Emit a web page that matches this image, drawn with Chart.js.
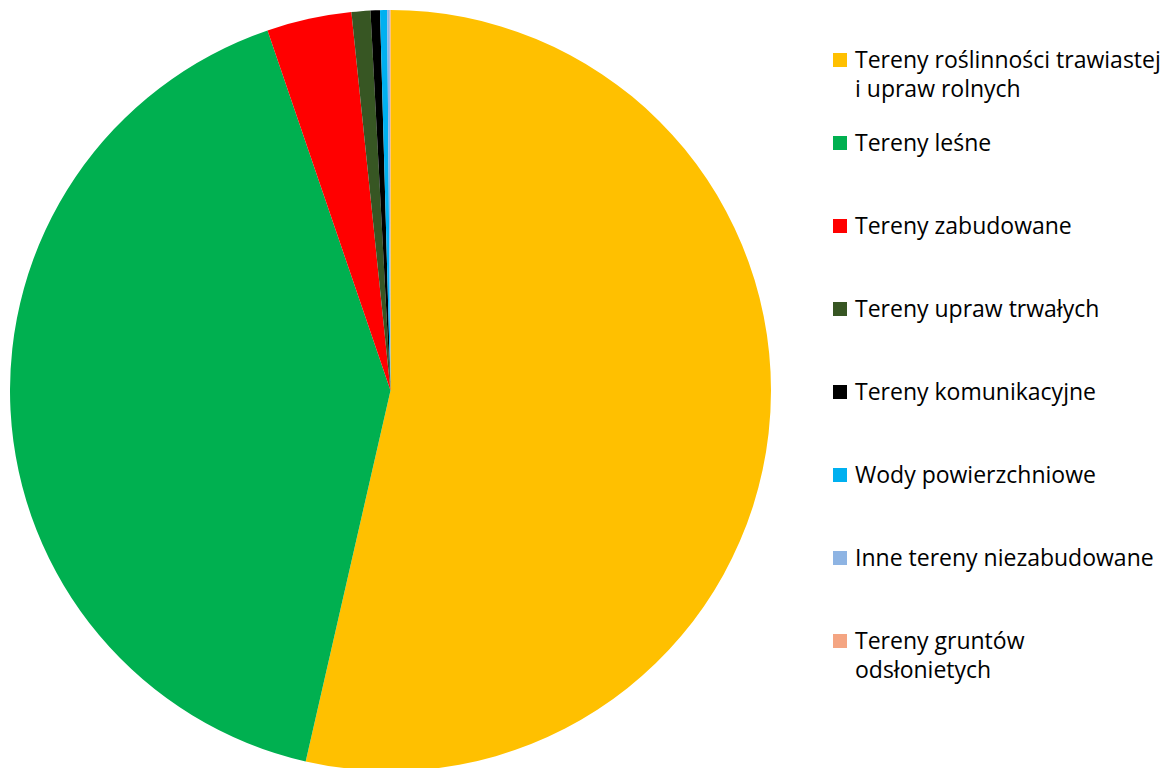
<!DOCTYPE html>
<html>
<head>
<meta charset="utf-8">
<script src="https://cdn.jsdelivr.net/npm/chart.js@4"></script>
<style>
    html, body { margin: 0; padding: 0; background: #fff; overflow: hidden; }
    body { width: 1168px; height: 768px; position: relative; }
    #pieBox { position: absolute; left: 10px; top: 10px; width: 761px; height: 761px; }
    #legend { position: absolute; left: 833px; top: 0; width: 335px; height: 768px;
              font-family: "Open Sans", "Noto Sans", sans-serif; font-size: 23px; color: #000; }
    .item { position: absolute; left: 0; display: flex; align-items: flex-start; }
    .swatch { width: 14px; height: 14px; margin-top: 8px; margin-right: 8px; flex: none; }
    .text { line-height: 29px; white-space: nowrap; }
</style>
</head>
<body>
<div id="pieBox"><canvas id="landChart"></canvas></div>
<div id="legend"></div>
<script>
// categories (two-line ones as arrays, like the original legend)
const categories = [
    ['Tereny roślinności trawiastej', 'i upraw rolnych'],
    'Tereny leśne',
    'Tereny zabudowane',
    'Tereny upraw trwałych',
    'Tereny komunikacyjne',
    'Wody powierzchniowe',
    'Inne tereny niezabudowane',
    ['Tereny gruntów', 'odsłonietych']
];

// share of area, %
const shares = [53.6, 41.2, 3.6, 0.8, 0.4, 0.3, 0.11, 0.03];

const sliceColors = ['#FFC000', '#00B050', '#FF0000', '#375623', '#000000', '#00B0F0', '#8EB4E3', '#F4A582'];

// build the legend on the right
const legend = document.getElementById('legend');
categories.forEach(function(cat, i) {
    const item = document.createElement('div');
    item.className = 'item';
    item.style.top = (45 + i * 83) + 'px';
    const sw = document.createElement('div');
    sw.className = 'swatch';
    sw.style.background = sliceColors[i];
    const txt = document.createElement('div');
    txt.className = 'text';
    const lines = Array.isArray(cat) ? cat : [cat];
    txt.innerHTML = lines.join('<br>');
    item.appendChild(sw);
    item.appendChild(txt);
    legend.appendChild(item);
});

new Chart(document.getElementById('landChart'), {
    type: 'pie',
    data: {
        labels: categories.map(c => Array.isArray(c) ? c.join(' ') : c),
        datasets: [{
            data: shares,
            backgroundColor: sliceColors,
            borderWidth: 0
        }]
    },
    options: {
        responsive: true,
        maintainAspectRatio: false,
        animation: false,
        layout: { padding: 0 },
        plugins: {
            legend: { display: false },
            tooltip: { enabled: false }
        }
    }
});
</script>
</body>
</html>
